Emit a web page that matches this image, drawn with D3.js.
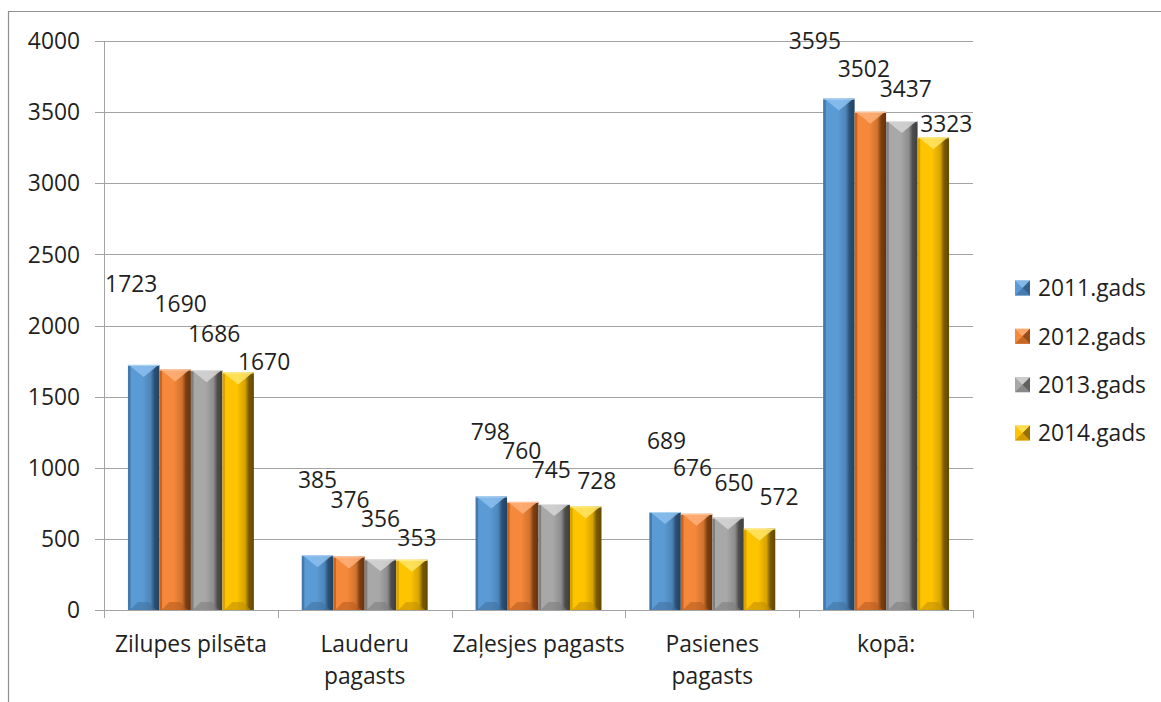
<!DOCTYPE html>
<html><head><meta charset="utf-8">
<script src="https://cdn.jsdelivr.net/npm/d3@7"></script>
<style>
html,body{margin:0;padding:0;background:#fff;}
svg{display:block;font-family:"Open Sans", Lato, sans-serif;}
</style></head>
<body>
<svg id="chart" width="1161" height="702"></svg>
<script>
// ---- data ----
const categories = [["Zilupes pilsēta"], ["Lauderu", "pagasts"], ["Zaļesjes pagasts"], ["Pasienes", "pagasts"], ["kopā:"]];
const seriesNames = ["2011.gads", "2012.gads", "2013.gads", "2014.gads"];
const values2011 = [1723, 385, 798, 689, 3595];
const values2012 = [1690, 376, 760, 676, 3502];
const values2013 = [1686, 356, 745, 650, 3437];
const values2014 = [1670, 353, 728, 572, 3323];
const yTicks = [0, 500, 1000, 1500, 2000, 2500, 3000, 3500, 4000];
// label nudges (style): offset of each data label from its bar's top centre
const labelDx = [[-12.5, 0, -1, 1.5, -24], [5.5, 1, -1, -4, -6.5], [7.5, 0, -3, 6, 4], [26, 5, 11, 19.5, 13]];
const labelDy = [[-81.5, -75, -65, -71, -57.6], [-65.5, -56.5, -51, -46, -43.3], [-36.5, -41, -34, -34.5, -32.5], [-11, -22, -26, -31.5, -14]];

const allValues = [values2011, values2012, values2013, values2014];
const palette = [
  {main:"#5b9bd5", light:"#8cc0ee", edge:"#2b5177", left:"#4479ab", bottom:"#3f6f9c"},
  {main:"#f5883a", light:"#ffb07a", edge:"#7e3f12", left:"#c9631d", bottom:"#b35a1e"},
  {main:"#a8a8a8", light:"#d6d6d6", edge:"#4e4e4e", left:"#808080", bottom:"#7a7a7a"},
  {main:"#ffc400", light:"#ffe566", edge:"#7a5a00", left:"#d9a300", bottom:"#c08c00"}
];

const svg = d3.select("#chart");
const W = 1161, H = 702;
const plot = {left:104, right:973, top:41, bottom:610};
const textColor = "#1f1f1f";
const fs = 22.8;

// outer frame
svg.append("path").attr("d", `M8.5,${H+2} V11.5 H${W+2}`).attr("fill","none").attr("stroke","#8f8f8f").attr("stroke-width",1.2);

const y = d3.scaleLinear().domain([0, 4000]).range([plot.bottom, plot.top]);
const x0 = d3.scaleBand().domain(d3.range(categories.length)).range([plot.left, plot.right]).paddingInner(0).paddingOuter(0);
const x1 = d3.scaleBand().domain(d3.range(seriesNames.length)).range([0, x0.bandwidth()]).paddingInner(0).paddingOuter(0.76);

// gradients
const defs = svg.append("defs");
palette.forEach((p, i) => {
  const g = defs.append("linearGradient").attr("id", "g"+i).attr("x1","0").attr("x2","1").attr("y1","0").attr("y2","0");
  [[0,p.left],[0.07,p.left],[0.1,p.main],[0.45,p.main],[0.72,d3.interpolateRgb(p.main,p.edge)(0.3)],[0.84,p.edge],[1,d3.interpolateRgb(p.edge,"#000")(0.2)]]
    .forEach(s => g.append("stop").attr("offset", s[0]).attr("stop-color", s[1]));
});

// gridlines
const gy = svg.append("g");
gy.selectAll("line").data(yTicks).join("line")
  .attr("x1", 95).attr("x2", plot.right).attr("y1", d => Math.round(y(d))+0.5).attr("y2", d => Math.round(y(d))+0.5)
  .attr("stroke", "#a3a3a3").attr("stroke-width", 1);
// y axis line
svg.append("line").attr("x1", plot.left+0.5).attr("x2", plot.left+0.5).attr("y1", plot.top).attr("y2", plot.bottom+8)
  .attr("stroke","#a3a3a3");
// y labels
svg.append("g").selectAll("text").data(yTicks).join("text")
  .attr("x", 80).attr("y", d => y(d)).attr("dy","0.36em").attr("text-anchor","end")
  .attr("font-size", fs).attr("fill", textColor).text(d => d);
// x ticks
svg.append("g").selectAll("line").data(d3.range(categories.length+1)).join("line")
  .attr("x1", d => Math.round(plot.left + d*x0.bandwidth())+0.5).attr("x2", d => Math.round(plot.left + d*x0.bandwidth())+0.5)
  .attr("y1", plot.bottom).attr("y2", plot.bottom+8).attr("stroke","#a3a3a3");
// x labels
const xl = svg.append("g").selectAll("text").data(categories).join("text")
  .attr("x", (d,i) => x0(i) + x0.bandwidth()/2).attr("y", 652)
  .attr("text-anchor","middle").attr("font-size", fs).attr("fill", textColor);
xl.selectAll("tspan").data(d => d).join("tspan")
  .attr("x", function(){ return this.parentNode.getAttribute("x"); })
  .attr("dy", (d,i) => i === 0 ? 0 : 32).text(d => d);

// bars
function drawBar(g, bx, by, bw, bh, si) {
  const p = palette[si];
  g.append("rect").attr("x", bx).attr("y", by).attr("width", bw).attr("height", bh).attr("fill", `url(#g${si})`);
  const b = Math.min(12, bh/2);
  // top light chevron
  g.append("path").attr("d", `M${bx+1},${by} L${bx+bw-1},${by} L${bx+bw/2},${by+b} Z`).attr("fill", p.light).attr("opacity", 0.85);
  g.append("line").attr("x1", bx).attr("x2", bx+bw).attr("y1", by+0.5).attr("y2", by+0.5).attr("stroke", d3.interpolateRgb(p.light,"#fff")(0.3)).attr("stroke-width",1);
  // bottom dark trapezoid
  const bb = Math.min(8, bh/3);
  g.append("path").attr("d", `M${bx+2},${by+bh} L${bx+bw-3},${by+bh} L${bx+bw-3-bb},${by+bh-bb} L${bx+2+bb},${by+bh-bb} Z`)
    .attr("fill", p.bottom).attr("opacity", 0.55);
}
const barsG = svg.append("g");
allValues.forEach((vals, si) => {
  vals.forEach((v, ci) => {
    const bx = x0(ci) + x1(si), bw = x1.bandwidth();
    drawBar(barsG, bx, y(v), bw, y(0) - y(v), si);
  });
});

// data labels
const lg = svg.append("g");
allValues.forEach((vals, si) => {
  lg.selectAll(null).data(vals).join("text")
    .attr("x", (v, ci) => x0(ci) + x1(si) + x1.bandwidth()/2 + labelDx[si][ci])
    .attr("y", (v, ci) => y(v) + labelDy[si][ci])
    .attr("dy", "0.36em").attr("text-anchor","middle").attr("font-size", fs).attr("fill", textColor)
    .text(v => v);
});

// legend
const legY = d3.scalePoint().domain(d3.range(seriesNames.length)).range([288, 433]);
const leg = svg.append("g");
seriesNames.forEach((n, si) => {
  const cy = legY(si);
  const g = leg.append("g");
  const p = palette[si];
  g.append("rect").attr("x", 1015).attr("y", cy-7.5).attr("width", 15).attr("height", 15).attr("fill", p.main);
  g.append("path").attr("d", `M1015,${cy-7.5} L1030,${cy-7.5} L1022.5,${cy} Z`).attr("fill", p.light).attr("opacity",0.8);
  g.append("path").attr("d", `M1030,${cy-7.5} L1030,${cy+7.5} L1022.5,${cy} Z`).attr("fill", p.edge).attr("opacity",0.8);
  g.append("path").attr("d", `M1015,${cy+7.5} L1030,${cy+7.5} L1022.5,${cy} Z`).attr("fill", p.bottom).attr("opacity",0.7);
  g.append("text").attr("x", 1038).attr("y", cy).attr("dy","0.36em").attr("font-size", fs).attr("fill", textColor).text(n);
});
</script>
</body></html>
